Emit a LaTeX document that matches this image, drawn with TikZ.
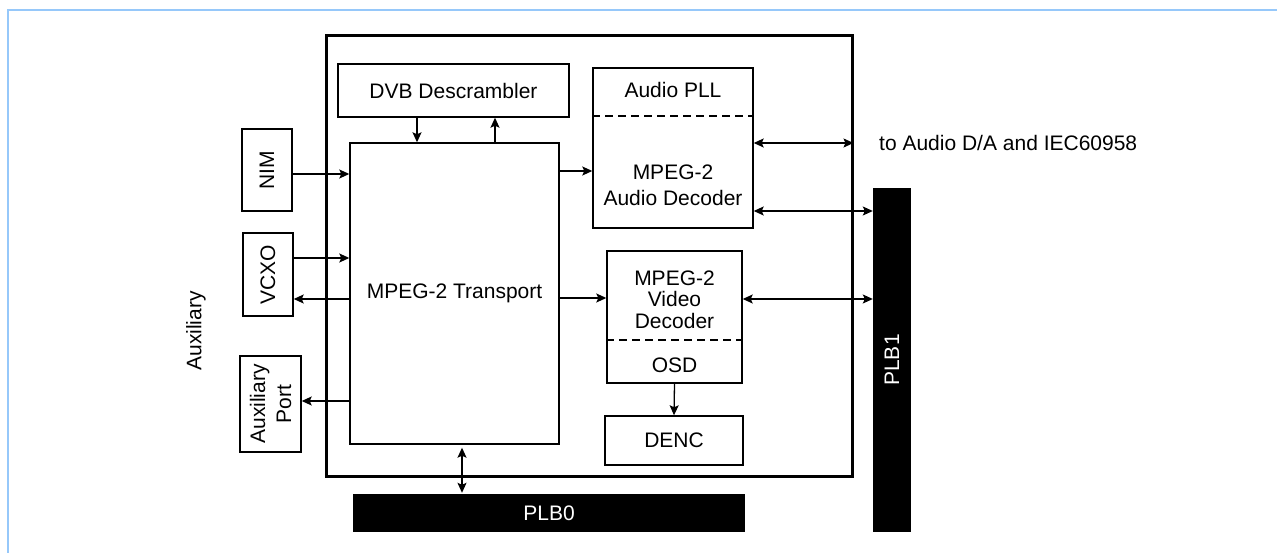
\documentclass[tikz,border=0pt]{standalone}
\usepackage{fontspec}
\setmainfont{Liberation Sans}
\usetikzlibrary{arrows.meta}
\definecolor{frameblue}{RGB}{150,200,250}
\tikzset{
  labelfont/.style={font=\fontsize{21}{24}\selectfont},
  block/.style={
    labelfont,
    draw=black,
    line width=1.4pt,
    inner sep=0pt
  },
  block-chip/.style={block, line width=3pt},
  bus/.style={labelfont, fill=black, text=white, inner sep=0pt},
  txt/.style={labelfont, inner sep=0pt, align=center},
  divider/.style={line width=2.8pt, dash pattern=on 8pt off 5pt},
  conn/.style={line width=1.3pt, ->},
  conn-both/.style={line width=1.3pt, <->}
}

\begin{document}
\begin{tikzpicture}[x=1pt, y=-1pt, >={Stealth[length=10pt,width=9pt,inset=2pt]}]
  \useasboundingbox (0,0) rectangle (1277,553);
  \draw[frameblue, line width=1.5pt] (8,553) -- (8,10) -- (1277,10);

  % chip outline and inner blocks
  \node[block-chip, minimum width=526, minimum height=440] (chip) at (589,256) {};
  \node[block, minimum width=231, minimum height=53] (dvb) at (453.5,90.5) {DVB Descrambler};
  \node[block, minimum width=209, minimum height=301] (transport) at (454.5,293.5) {MPEG-2 Transport};
  \node[block, minimum width=160, minimum height=160] (audio) at (673,148) {};
  \node[block, minimum width=135, minimum height=132] (video) at (674.5,317) {};
  \node[block, minimum width=138, minimum height=49] (denc) at (674,440.5) {DENC};

  % split blocks
  \node[txt] (audiopll) at (673,90) {Audio PLL};
  \node[txt, font=\fontsize{21}{26}\selectfont] (audiodec) at (673,185) {MPEG-2\\Audio Decoder};
  \draw[divider] (audio.west |- 0,116) -- (audio.east |- 0,116);
  \node[txt, font=\fontsize{21}{21.5}\selectfont] (videodec) at (674.5,299.5) {MPEG-2\\Video\\Decoder};
  \node[txt] (osd) at (674.5,365) {OSD};
  \draw[divider] (video.west |- 0,340) -- (video.east |- 0,340);

  % external blocks, text turned upward
  \node[block, rotate=90, minimum width=82, minimum height=50] (nim) at (267,170) {NIM};
  \node[block, rotate=90, minimum width=83, minimum height=50] (vcxo) at (268,274.5) {VCXO};
  \node[block, rotate=90, minimum width=96, minimum height=61, align=center,
    font=\fontsize{21}{26}\selectfont] (auxport) at (270.5,404) {Auxiliary\\Port};
  \node[txt, rotate=90] (auxlabel) at (196,331) {Auxiliary};
  \node[txt, anchor=west] (dactext) at (879,143) {to Audio D/A and IEC60958};

  % buses
  \node[bus, minimum width=392, minimum height=38] (plb0) at (549,513) {PLB0};
  \node[bus, rotate=90, minimum width=344, minimum height=38] (plb1) at (892,360) {PLB1};

  % connectors
  \draw[conn] (nim.south |- 0,174) -- (transport.west |- 0,174);
  \draw[conn] (vcxo.south |- 0,258) -- (transport.west |- 0,258);
  \draw[conn] (transport.west |- 0,299) -- (vcxo.south |- 0,299);
  \draw[conn] (transport.west |- 0,401) -- (auxport.south |- 0,401);
  \draw[conn] (dvb.south -| 417,0) -- (transport.north -| 417,0);
  \draw[conn] (transport.north -| 495,0) -- (dvb.south -| 495,0);
  \draw[conn] (transport.east |- 0,171) -- (audio.west |- 0,171);
  \draw[conn] (transport.east |- 0,298) -- (video.west |- 0,298);
  \draw[conn-both] (audio.east |- 0,143) -- (chip.east |- 0,143);
  \draw[conn-both] (audio.east |- 0,211) -- (plb1.north |- 0,211);
  \draw[conn-both] (video.east |- 0,299) -- (plb1.north |- 0,299);
  \draw[conn] (video.south) -- (denc.north);
  \draw[conn-both, shorten <=3pt, shorten >=1pt] (transport.south -| 462,0) -- (plb0.north -| 462,0);
\end{tikzpicture}
\end{document}
